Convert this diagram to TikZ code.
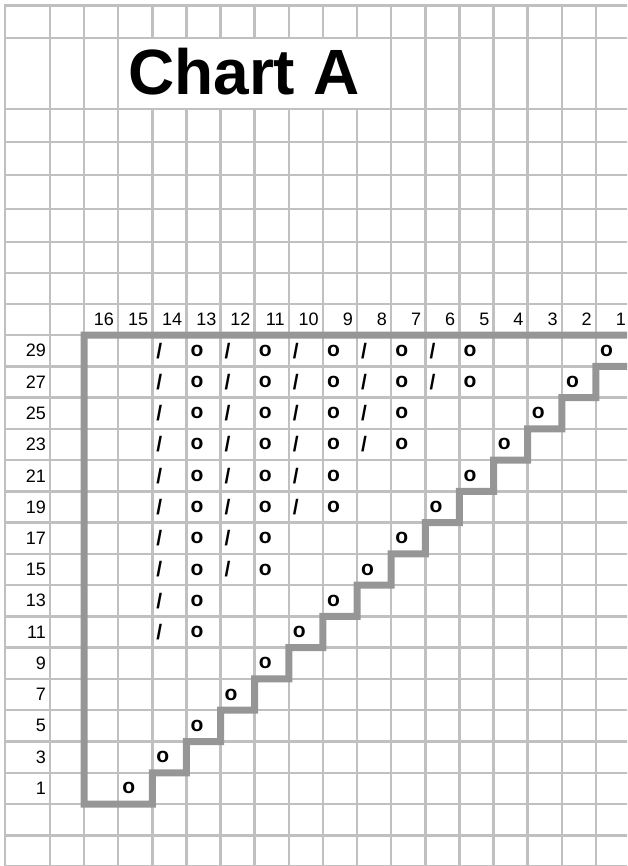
\documentclass[tikz,border=0pt]{standalone}
\usepackage{fontspec}
\setmainfont{Liberation Sans}
\usepackage{tikz}
\usetikzlibrary{positioning}
\definecolor{gridgray}{HTML}{C0C0C0}
\definecolor{edgegray}{HTML}{969696}

\begin{document}
\begin{tikzpicture}[x=1pt, y=-1pt]
    \tikzstyle{gridline} = [draw=gridgray, line width=2.5pt, line cap=rect]
    \tikzstyle{edgeline} = [draw=edgegray, line width=7pt, line join=miter]
    \tikzstyle{numlabel} = [anchor=east, inner sep=0pt, font=\fontsize{18}{20}\selectfont]
    \tikzstyle{stitch} = [anchor=west, inner sep=0pt, font=\bfseries\fontsize{21}{23}\selectfont]
    \tikzstyle{titletext} = [anchor=base west, inner sep=0pt, font=\bfseries\fontsize{64}{70}\selectfont]

    \useasboundingbox (0,0) rectangle (627,866);
    \clip (0,0) rectangle (627,866);

    % grid paper
    \foreach \y in {5.5,38,109,142,175,209,242,273,304}
        \draw[gridline] (5,\y) -- (640,\y);
    \foreach \i in {0,...,17}
        \draw[gridline] (5,{335+31.27*\i}) -- (640,{335+31.27*\i});
    \draw[gridline] (5,5.5) -- (5,870);
    \draw[gridline] (50,5.5) -- (50,870);
    \foreach \k in {0,...,16}
        \draw[gridline] ({84+34.13*\k},5.5) -- ({84+34.13*\k},870);
    % merged title cell
    \fill[white] (119.4,39.3) rectangle (389.9,107.7);
    \node[titletext] (title) at (128,95) {Chart A};

    % outline of the chart
    \draw[edgeline] (640,366.27)
        \foreach \i in {1,...,14} { -- ({84+34.13*(16-\i)},{335+31.27*\i}) -- ({84+34.13*(16-\i)},{335+31.27*(\i+1)}) }
        -- (84,804.05) -- (84,335) -- (640,335);

    % stitch and row numbers
    \foreach \n in {1,...,16}
        \node[numlabel] (c\n) at ({84+34.13*(17-\n)-4},319.5) {\n};
    \foreach \r [count=\i from 0] in {29,27,...,1}
        \node[numlabel] (r\r) at (46,{335+31.27*(\i+0.5)}) {\r};

    % symbols
    \foreach \r/\last in {29/5,27/5,25/7,23/7,21/9,19/9,17/11,15/11,13/13,11/13}
        \foreach \col in {14,13,...,\last} {
            \pgfmathtruncatemacro\i{(29-\r)/2}
            \ifodd\col\relax \def\sym{o}\else \def\sym{/}\fi
            \node[stitch] (s\r-\col) at ({84+34.13*(16-\col)+4},{335+31.27*(\i+0.5)}) {\sym};
        }
    \foreach \r [count=\i from 0] in {29,27,...,1} {
        \pgfmathtruncatemacro\col{\i+1}
        \node[stitch] (s\r-\col) at ({84+34.13*(16-\col)+4},{335+31.27*(\i+0.5)}) {o};
    }
\end{tikzpicture}
\end{document}
